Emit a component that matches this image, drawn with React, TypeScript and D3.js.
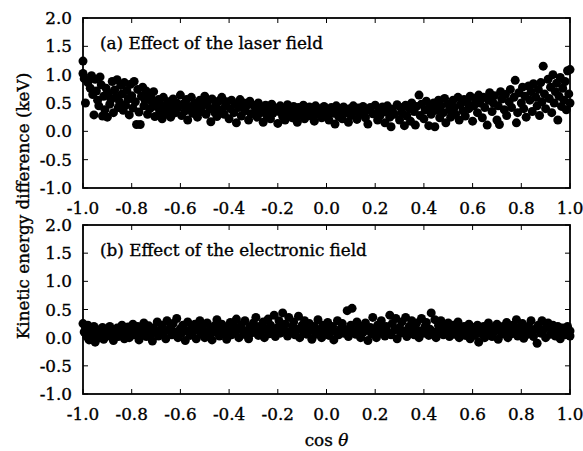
import React from "react";
import * as d3 from "d3";

const xTicks = [-1.0, -0.8, -0.6, -0.4, -0.2, 0.0, 0.2, 0.4, 0.6, 0.8, 1.0];
const yTicks = [-1.0, -0.5, 0.0, 0.5, 1.0, 1.5, 2.0];
const panelTitles = ["(a) Effect of the laser field", "(b) Effect of the electronic field"];
const yAxisTitle = "Kinetic energy difference (keV)";

const laserPoints: [number, number][] = [
  [-1.0,1.24],[-1.0,1.02],[-0.995,0.93],[-0.99,0.5],[-0.98,0.86],[-0.97,0.76],[-0.965,0.98],[-0.96,0.65],[-0.955,0.29],[-0.95,0.92],[-0.945,0.71],[-0.94,0.55],[-0.935,0.45],[-0.93,0.96],[-0.925,0.82],[-0.92,0.27],[-0.915,0.62],[-0.91,0.38],[-0.905,0.76],[-0.9,0.25],[-0.895,0.67],[-0.89,0.48],[-0.885,0.56],[-0.88,0.88],[-0.875,0.33],[-0.87,0.73],[-0.865,0.6],[-0.86,0.91],[-0.855,0.42],[-0.85,0.52],[-0.845,0.81],[-0.84,0.66],[-0.835,0.37],[-0.83,0.86],[-0.825,0.46],[-0.82,0.72],[-0.815,0.57],[-0.81,0.29],[-0.805,0.83],[-0.8,0.63],[-0.795,0.41],[-0.79,0.88],[-0.785,0.52],[-0.78,0.12],[-0.775,0.74],[-0.77,0.34],[-0.765,0.12],[-0.76,0.62],[-0.755,0.78],[-0.75,0.45],[-0.745,0.55],[-0.74,0.71],[-0.735,0.3],[-0.73,0.66],[-0.725,0.4],[-0.72,0.58],[-0.715,0.5],[-0.71,0.7],[-0.705,0.26],[-0.7,0.44],
  [-0.69,0.56],[-0.685,0.35],[-0.68,0.47],[-0.675,0.22],[-0.67,0.6],[-0.665,0.4],[-0.66,0.3],[-0.65,0.52],[-0.645,0.38],[-0.64,0.25],[-0.635,0.45],[-0.63,0.57],[-0.62,0.33],[-0.615,0.5],[-0.61,0.42],[-0.6,0.64],[-0.595,0.28],[-0.59,0.48],[-0.58,0.36],[-0.575,0.56],[-0.57,0.2],[-0.56,0.44],[-0.555,0.6],[-0.55,0.32],[-0.54,0.5],[-0.535,0.4],[-0.53,0.25],[-0.52,0.55],[-0.515,0.35],[-0.51,0.45],[-0.5,0.62],[-0.495,0.3],[-0.49,0.51],[-0.48,0.4],[-0.475,0.17],[-0.47,0.57],[-0.46,0.34],[-0.455,0.47],[-0.45,0.26],[-0.44,0.54],[-0.435,0.38],[-0.43,0.6],[-0.42,0.3],[-0.415,0.45],[-0.41,0.52],[-0.4,0.22],[-0.395,0.4],[-0.39,0.55],[-0.38,0.33],[-0.375,0.48],[-0.37,0.15],[-0.36,0.42],[-0.355,0.56],[-0.35,0.27],[-0.34,0.5],[-0.335,0.36],[-0.33,0.44],[-0.32,0.2],[-0.315,0.53],[-0.31,0.31],[-0.3,0.46],
  [-0.29,0.38],[-0.285,0.25],[-0.28,0.5],[-0.27,0.33],[-0.265,0.42],[-0.26,0.16],[-0.25,0.46],[-0.245,0.28],[-0.24,0.37],[-0.23,0.22],[-0.225,0.48],[-0.22,0.32],[-0.21,0.41],[-0.2,0.14],[-0.195,0.35],[-0.19,0.45],[-0.18,0.26],[-0.175,0.39],[-0.17,0.2],[-0.16,0.47],[-0.155,0.3],[-0.15,0.4],[-0.14,0.24],[-0.135,0.44],[-0.13,0.34],[-0.12,0.16],[-0.115,0.42],[-0.11,0.28],[-0.1,0.38],[-0.095,0.46],[-0.09,0.22],[-0.08,0.33],[-0.07,0.43],[-0.065,0.27],[-0.06,0.37],[-0.05,0.18],[-0.045,0.45],[-0.04,0.3],[-0.03,0.4],[-0.02,0.24],[-0.015,0.35],[-0.01,0.44],[0.0,0.28],[0.005,0.38],[0.01,0.2],[0.02,0.42],[0.03,0.32],[0.035,0.13],[0.04,0.45],[0.05,0.26],[0.06,0.38],[0.065,0.22],[0.07,0.43],[0.08,0.33],[0.09,0.16],[0.095,0.4],[0.1,0.28],[0.11,0.45],[0.12,0.35],[0.125,0.21],[0.13,0.41],[0.14,0.3],[0.15,0.44],[0.16,0.24],[0.165,0.37],[0.17,0.13],[0.18,0.42],[0.19,0.31],[0.2,0.46],[0.21,0.2],[0.215,0.38],[0.22,0.28],[0.23,0.43],[0.24,0.15],[0.245,0.34],[0.25,0.45],[0.26,0.25],[0.265,0.08],[0.27,0.39],[0.28,0.3],[0.29,0.47],[0.3,0.2],
  [0.305,0.42],[0.31,0.33],[0.32,0.1],[0.325,0.46],[0.33,0.27],[0.34,0.4],[0.345,0.18],[0.35,0.5],[0.36,0.35],[0.365,0.11],[0.37,0.44],[0.38,0.64],[0.385,0.28],[0.39,0.48],[0.4,0.22],[0.405,0.38],[0.41,0.53],[0.42,0.1],[0.425,0.43],[0.43,0.3],[0.44,0.5],[0.445,0.08],[0.45,0.37],[0.46,0.55],[0.465,0.24],[0.47,0.45],[0.48,0.33],[0.485,0.58],[0.49,0.15],[0.5,0.48],[0.505,0.38],[0.51,0.25],[0.52,0.55],[0.525,0.42],[0.53,0.3],[0.54,0.6],[0.545,0.2],[0.55,0.47],[0.56,0.36],[0.565,0.56],[0.57,0.27],[0.58,0.5],[0.585,0.4],[0.59,0.62],[0.6,0.18],
  [0.605,0.45],[0.61,0.58],[0.62,0.33],[0.625,0.64],[0.63,0.5],[0.64,0.24],[0.645,0.6],[0.65,0.42],[0.66,0.11],[0.665,0.55],[0.67,0.68],[0.68,0.35],[0.685,0.5],[0.69,0.63],[0.7,0.2],[0.705,0.45],[0.71,0.12],[0.715,0.7],[0.72,0.57],[0.73,0.38],[0.735,0.65],[0.74,0.28],[0.75,0.52],[0.755,0.74],[0.76,0.42],[0.77,0.6],[0.775,0.9],[0.78,0.15],[0.785,0.33],[0.79,0.68],[0.8,0.5],[0.805,0.78],[0.81,0.4],[0.815,0.62],[0.82,0.25],[0.83,0.8],[0.835,0.55],[0.84,0.7],[0.845,0.35],[0.85,0.84],[0.86,0.6],[0.865,0.45],[0.87,0.74],[0.875,0.28],[0.88,0.86],[0.885,0.52],[0.89,1.15],[0.895,0.66],[0.9,0.4],[0.91,0.92],[0.915,0.58],[0.92,0.78],[0.925,0.33],[0.93,1.0],[0.935,0.5],[0.94,0.7],[0.945,0.85],[0.95,0.2],[0.955,0.62],[0.96,0.95],[0.965,0.44],[0.97,0.76],[0.975,0.55],[0.98,0.88],[0.985,0.38],[0.99,1.07],[0.995,0.66],[1.0,0.5],[1.0,1.09]
];

const electronicPoints: [number, number][] = [
  [-1.0,0.25],[-0.995,0.1],[-0.99,0.18],[-0.985,0.02],[-0.98,0.22],[-0.975,-0.04],[-0.97,0.12],[-0.96,0.05],[-0.955,0.2],[-0.95,-0.08],[-0.94,0.14],[-0.935,0.0],[-0.93,0.08],[-0.92,0.18],[-0.915,-0.03],[-0.91,0.1],[-0.9,0.03],[-0.895,0.15],[-0.89,0.2],[-0.88,0.06],[-0.875,-0.05],[-0.87,0.12],[-0.86,0.17],[-0.855,0.02],[-0.85,0.09],[-0.84,0.22],[-0.835,0.13],[-0.83,-0.02],[-0.82,0.07],[-0.815,0.19],[-0.81,0.0],[-0.8,0.14],[-0.795,0.24],[-0.79,0.05],[-0.78,0.1],[-0.775,0.2],[-0.77,-0.04],[-0.76,0.16],[-0.755,0.07],[-0.75,0.26],[-0.74,0.02],[-0.735,0.13],[-0.73,0.21],[-0.72,0.06],[-0.715,-0.06],[-0.71,0.17],[-0.7,0.1],[-0.695,0.28],[-0.69,0.03],[-0.68,0.15],[-0.675,0.22],[-0.67,0.08],[-0.66,-0.02],[-0.655,0.3],[-0.65,0.13],[-0.64,0.2],[-0.635,0.05],[-0.63,0.25],[-0.62,0.1],[-0.615,0.34],[-0.61,0.0],[-0.6,0.16],
  [-0.595,0.08],[-0.59,0.22],[-0.58,-0.05],[-0.575,0.12],[-0.57,0.28],[-0.56,0.04],[-0.555,0.17],[-0.55,0.1],[-0.54,0.24],[-0.535,-0.02],[-0.53,0.14],[-0.52,0.3],[-0.515,0.06],[-0.51,0.19],[-0.5,0.0],[-0.495,0.11],[-0.49,0.26],[-0.48,0.08],[-0.475,0.16],[-0.47,-0.04],[-0.46,0.21],[-0.455,0.1],[-0.45,0.32],[-0.44,0.03],[-0.435,0.15],[-0.43,0.24],[-0.42,0.07],[-0.415,0.18],[-0.41,-0.03],[-0.4,0.12],[-0.395,0.27],[-0.39,0.05],[-0.38,0.2],[-0.375,0.1],[-0.37,0.33],[-0.36,0.0],[-0.355,0.15],[-0.35,0.23],[-0.34,0.06],[-0.335,0.3],[-0.33,0.12],[-0.32,-0.02],[-0.315,0.19],[-0.31,0.08],[-0.3,0.26],[-0.295,0.14],[-0.29,0.36],[-0.28,0.04],[-0.275,0.2],[-0.27,0.1],[-0.26,0.28],[-0.255,0.0],[-0.25,0.16],[-0.24,0.33],[-0.235,0.07],[-0.23,0.22],[-0.22,0.12],[-0.215,0.4],[-0.21,0.02],[-0.2,0.18],
  [-0.195,0.3],[-0.19,0.08],[-0.18,0.44],[-0.175,0.14],[-0.17,0.24],[-0.16,0.03],[-0.155,0.36],[-0.15,0.1],[-0.14,0.2],[-0.135,0.28],[-0.13,0.05],[-0.12,0.15],[-0.115,0.38],[-0.11,0.0],[-0.1,0.22],[-0.095,0.1],[-0.09,0.3],[-0.08,0.06],[-0.075,0.16],[-0.07,0.25],[-0.06,-0.03],[-0.055,0.12],[-0.05,0.2],[-0.04,0.06],[-0.035,0.32],[-0.03,0.14],[-0.02,0.0],[-0.015,0.22],[-0.01,0.09],[0.0,0.17],[0.005,0.27],[0.01,0.04],[0.02,0.13],[0.025,0.2],[0.03,-0.04],[0.04,0.1],[0.045,0.3],[0.05,0.05],[0.06,0.17],[0.065,0.25],[0.07,0.08],[0.08,0.14],[0.085,0.48],[0.09,0.02],[0.1,0.22],[0.105,0.52],[0.11,0.11],[0.12,0.06],[0.125,0.28],[0.13,0.15],[0.14,0.0],[0.145,0.2],[0.15,0.09],[0.16,0.26],[0.165,0.13],[0.17,-0.05],[0.18,0.18],[0.185,0.07],[0.19,0.36],[0.2,0.12],[0.205,0.0],[0.21,0.22],[0.22,0.08],[0.225,0.3],[0.23,0.15],[0.24,0.03],[0.245,0.2],[0.25,0.1],[0.26,0.4],[0.265,0.05],[0.27,0.25],[0.28,0.14],[0.285,0.34],[0.29,-0.02],[0.3,0.18],
  [0.305,0.08],[0.31,0.28],[0.32,0.12],[0.325,0.36],[0.33,0.02],[0.34,0.2],[0.345,0.1],[0.35,0.3],[0.36,0.05],[0.365,0.16],[0.37,0.26],[0.38,0.0],[0.385,0.12],[0.39,0.34],[0.4,0.08],[0.405,0.2],[0.41,0.27],[0.42,0.04],[0.425,0.15],[0.43,0.44],[0.44,0.1],[0.445,0.32],[0.45,0.0],[0.46,0.22],[0.465,0.12],[0.47,0.3],[0.48,0.05],[0.485,0.18],[0.49,0.08],[0.5,0.26],[0.505,0.02],[0.51,0.14],[0.52,0.22],[0.525,0.06],[0.53,0.12],[0.54,0.28],[0.545,0.0],[0.55,0.16],[0.56,0.08],[0.565,0.2],[0.57,0.04],[0.58,0.12],[0.585,0.24],[0.59,-0.02],[0.6,0.1],
  [0.605,0.18],[0.61,0.04],[0.62,0.22],[0.625,-0.08],[0.63,0.12],[0.64,0.06],[0.645,0.2],[0.65,0.0],[0.66,0.15],[0.665,0.26],[0.67,0.08],[0.68,0.02],[0.685,0.18],[0.69,0.11],[0.7,0.24],[0.705,-0.03],[0.71,0.14],[0.72,0.06],[0.725,0.2],[0.73,0.1],[0.74,0.27],[0.745,0.0],[0.75,0.16],[0.76,0.07],[0.765,0.22],[0.77,0.12],[0.78,0.32],[0.785,0.03],[0.79,0.18],[0.8,0.09],[0.805,0.25],[0.81,-0.01],[0.82,0.14],[0.825,0.06],[0.83,0.2],[0.84,0.3],[0.845,0.1],[0.85,0.02],[0.86,0.16],[0.865,-0.1],[0.87,0.22],[0.88,0.08],[0.885,0.3],[0.89,0.13],[0.9,0.0],[0.905,0.19],[0.91,0.26],[0.92,0.06],[0.925,0.15],[0.93,0.22],[0.94,0.03],[0.945,0.12],[0.95,0.2],[0.96,-0.02],[0.965,0.1],[0.97,0.17],[0.98,0.05],[0.985,0.13],[0.99,0.2],[1.0,0.03],[1.0,0.12]
];

const W = 583;
const H = 451;
const FONT = "'DejaVu Serif', serif";
const FS = 16.8;
const TEXT_STROKE = 0.35;
const left = 83;
const right = 570;
const panels = [
  { top: 18, bottom: 188, data: laserPoints, title: panelTitles[0] },
  { top: 225, bottom: 394, data: electronicPoints, title: panelTitles[1] },
];

const textProps = {
  fontFamily: FONT,
  fontSize: FS,
  fill: "#000",
  stroke: "#000",
  strokeWidth: TEXT_STROKE,
};

function Panel({ top, bottom, data, title }: { top: number; bottom: number; data: [number, number][]; title: string }) {
  const x = d3.scaleLinear().domain([-1, 1]).range([left, right]);
  const y = d3.scaleLinear().domain([-1, 2]).range([bottom, top]);
  const tl = 5;
  return (
    <g>
      {data.map((d, i) => (
        <circle key={i} cx={x(d[0])} cy={y(d[1])} r={4.5} fill="#000" />
      ))}
      {xTicks.map((t, i) => (
        <g key={"x" + i}>
          <line x1={x(t)} x2={x(t)} y1={bottom} y2={bottom - tl} stroke="#000" strokeWidth={1} />
          <line x1={x(t)} x2={x(t)} y1={top} y2={top + tl} stroke="#000" strokeWidth={1} />
          <text x={x(t)} y={bottom + 26} textAnchor="middle" {...textProps}>
            {t.toFixed(1)}
          </text>
        </g>
      ))}
      {yTicks.map((t, i) => (
        <g key={"y" + i}>
          <line x1={left} x2={left + tl} y1={y(t)} y2={y(t)} stroke="#000" strokeWidth={1} />
          <line x1={right} x2={right - tl} y1={y(t)} y2={y(t)} stroke="#000" strokeWidth={1} />
          <text x={72} y={y(t)} dy="0.36em" textAnchor="end" {...textProps}>
            {t.toFixed(1)}
          </text>
        </g>
      ))}
      <rect x={left} y={top} width={right - left} height={bottom - top} fill="none" stroke="#000" strokeWidth={1.8} />
      <text x={100} y={top + 31} {...textProps}>
        {title}
      </text>
    </g>
  );
}

export default function App() {
  return (
    <svg width={W} height={H} style={{ position: "absolute", left: 0, top: 0, background: "#fff" }}>
      <rect x={0} y={0} width={W} height={H} fill="#fff" />
      {panels.map((p, i) => (
        <Panel key={i} {...p} />
      ))}
      <text transform={`translate(29,${206}) rotate(-90)`} textAnchor="middle" {...textProps}>
        {yAxisTitle}
      </text>
      <text x={(left + right) / 2} y={446} textAnchor="middle" {...textProps}>
        cos <tspan fontStyle="italic">θ</tspan>
      </text>
    </svg>
  );
}
